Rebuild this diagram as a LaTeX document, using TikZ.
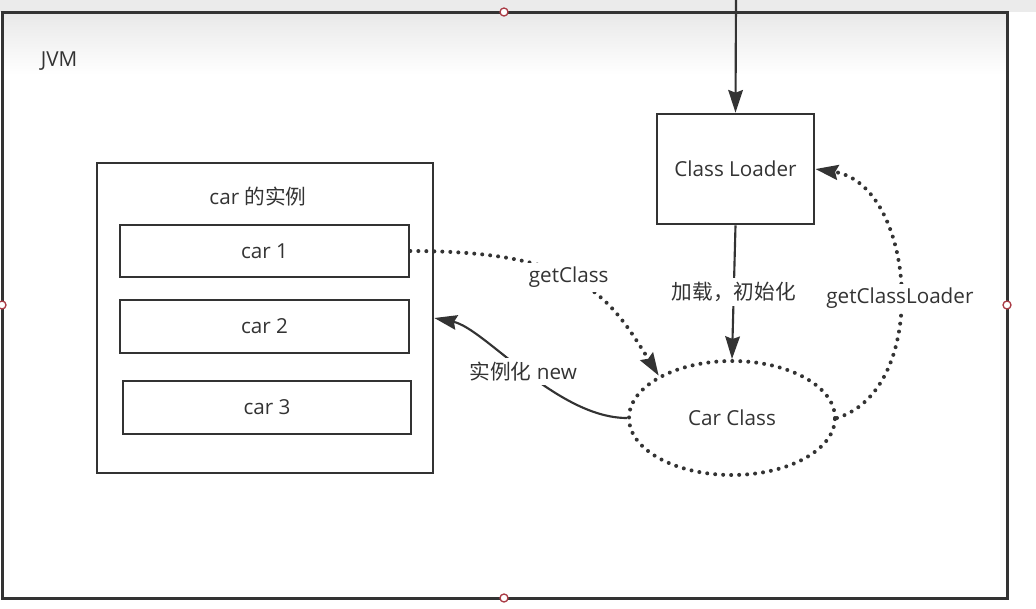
\documentclass[tikz,border=0pt]{standalone}
\usepackage{fontspec}
\setmainfont{Open Sans}
\newfontfamily\cjk{Noto Sans CJK SC}
\usetikzlibrary{arrows.meta,shapes.geometric}
\definecolor{ink}{RGB}{51,51,51}
\definecolor{handle}{RGB}{170,60,70}
\tikzset{every picture/.style={line width=0.75pt}}
\tikzset{
  box/.style={draw=ink, line width=2pt, inner sep=0pt, text=ink, font=\fontsize{15.5}{18}\selectfont},
  lbl/.style={inner sep=0.75pt, text=ink, font=\fontsize{15.5}{18}\selectfont},
  gap/.style={lbl, fill=white, inner sep=3pt},
  solidarrow/.style={draw=ink, line width=1.6pt, -{Stealth[length=17pt,width=11pt,inset=2pt]}},
  dotarrow/.style={solidarrow, line width=3pt, line cap=round, dash pattern=on 0pt off 6pt},
}

\begin{document}
\begin{tikzpicture}[x=0.75pt,y=0.75pt,yscale=-1,xscale=1]
\useasboundingbox (0,0) rectangle (1036,608);

%Canvas top band
\fill [black!8] (0,0) rectangle (1036,12);
\shade [top color=black!9, bottom color=white] (2,12) rectangle (1007,75);

%Shape: Rectangle JVM
\draw (504.5,305) node (jvm) [box, line width=2.25pt, minimum width=753.75pt, minimum height=439.5pt] {};
%Shape: Rectangle instances
\draw (265,318) node (inst) [box, minimum width=252pt, minimum height=232.5pt] {};
%Shape: Rectangle car1
\draw (264.5,251) node (car1) [box, minimum width=216.75pt, minimum height=39pt] {car 1};
%Shape: Rectangle car2
\draw (264.5,326.5) node (car2) [box, minimum width=216.75pt, minimum height=39.75pt] {car 2};
%Shape: Rectangle car3
\draw (267,407.5) node (car3) [box, minimum width=216pt, minimum height=39.75pt] {car 3};
%Shape: Rectangle class loader
\draw (735.5,169) node (loader) [box, minimum width=117.75pt, minimum height=82.5pt] {Class Loader};
%Shape: Ellipse car class
\draw (732,418) node (carclass) [box, ellipse, line width=3pt, line cap=round, dash pattern=on 0pt off 6pt, minimum width=154.5pt, minimum height=85.5pt] {Car Class};

%Straight Lines
\coordinate (entry) at (736,0);
\draw [solidarrow] (entry) -- (loader.north);
%Straight Lines
\draw [solidarrow] (loader.south) -- node [gap] {\cjk 加载，初始化} (carclass.north);
%Curve Lines
\draw [dotarrow] (car1.east) .. controls +(170,0) and +(-50,-80) .. (carclass.150) node [gap, pos=0.45] {getClass};
%Curve Lines
\draw [dotarrow] (carclass.east) .. controls +(95,-30) and +(100,15) .. (loader.east) node [gap, pos=0.47] {getClassLoader};
%Curve Lines
\draw [solidarrow] (carclass.west) .. controls +(-70,0) and +(50,10) .. (inst.east) node [gap, pos=0.5] {{\cjk 实例化} new};

% Text Node
\draw (59,61) node (jvmtext) [lbl] {JVM};
% Text Node
\draw (258,197) node (insttext) [lbl] {car {\cjk 的实例}};

%Handles
\draw [handle, line width=1pt, fill=white] (504,12) circle (4);
\draw [handle, line width=1pt, fill=white] (2,305) circle (4);
\draw [handle, line width=1pt, fill=white] (1007,305) circle (4);
\draw [handle, line width=1pt, fill=white] (504,598) circle (4);

\end{tikzpicture}
\end{document}
